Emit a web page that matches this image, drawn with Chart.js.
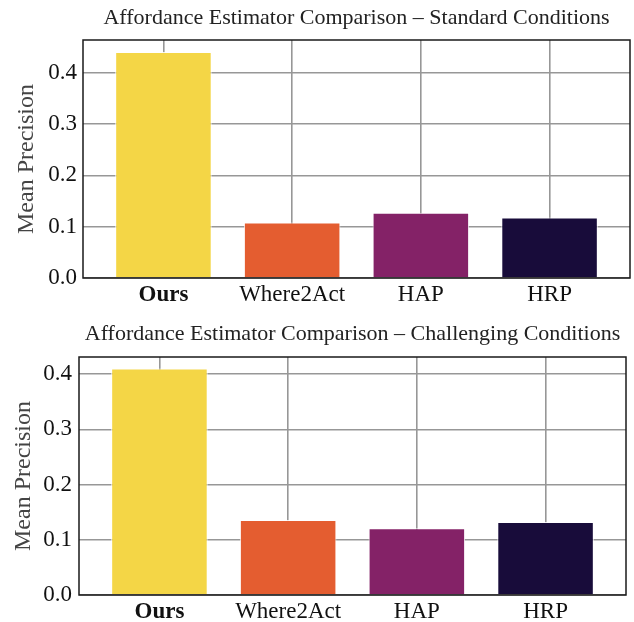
<!DOCTYPE html>
<html>
<head>
<meta charset="utf-8">
<script src="https://cdn.jsdelivr.net/npm/chart.js@4.4.1/dist/chart.umd.min.js"></script>
<style>
  html, body { margin: 0; padding: 0; background: #ffffff; }
  #wrap { width: 634px; height: 622px; position: relative; }
  canvas { display: block; position: absolute; left: 0; }
  #topChart { top: 0; }
  #bottomChart { top: 311px; }
</style>
</head>
<body>
<div id="wrap">
  <canvas id="topChart" width="634" height="311"></canvas>
  <canvas id="bottomChart" width="634" height="311"></canvas>
</div>
<script>
const methods = ["Ours", "Where2Act", "HAP", "HRP"];
const standardPrecision = [0.44, 0.108, 0.127, 0.118];
const challengingPrecision = [0.41, 0.136, 0.121, 0.132];
const yTickValues = [0.0, 0.1, 0.2, 0.3, 0.4];
const standardYMax = 0.4635;
const challengingYMax = 0.431;

const barColors = ["#F4D646", "#E45D30", "#842267", "#180C3A"];

const serif = "'Liberation Serif', 'DejaVu Serif', serif";

// frame around the plot area, like a matplotlib axes box
const frameBox = {
  id: "frameBox",
  afterDatasetsDraw(chart) {
    const { ctx, chartArea } = chart;
    ctx.save();
    ctx.strokeStyle = "#1a1a1a";
    ctx.lineWidth = 1.5;
    ctx.strokeRect(
      chartArea.left,
      chartArea.top,
      chartArea.right - chartArea.left,
      chartArea.bottom - chartArea.top
    );
    ctx.restore();
  },
};

// title centred over the plot area rather than the whole canvas
const axesTitle = {
  id: "axesTitle",
  afterDraw(chart, args, opts) {
    const { ctx, chartArea } = chart;
    ctx.save();
    ctx.font = "normal 22px " + serif;
    ctx.fillStyle = "#222222";
    ctx.textAlign = "center";
    ctx.textBaseline = "middle";
    ctx.fillText(opts.text, (chartArea.left + chartArea.right) / 2, opts.y);
    ctx.restore();
  },
};

function makeChart(canvasId, title, values, yMax, box) {
  return new Chart(canvasId, {
    type: "bar",
    data: {
      datasets: [
        {
          data: values.map((v, i) => ({ x: i, y: v })),
          backgroundColor: barColors,
          borderColor: "rgba(255,255,255,0.85)",
          borderWidth: 1,
          categoryPercentage: 1,
          barPercentage: 0.75,
        },
      ],
    },
    options: {
      responsive: false,
      animation: false,
      layout: {
        padding: { left: 0, right: box.padRight, top: box.padTop, bottom: 0 },
      },
      plugins: {
        legend: { display: false },
        tooltip: { enabled: false },
        title: { display: false },
        axesTitle: { text: title, y: box.titleY },
      },
      scales: {
        x: {
          type: "linear",
          offset: false,
          min: -0.625,
          max: methods.length - 1 + 0.625,
          afterBuildTicks(scale) {
            scale.ticks = methods.map((m, i) => ({ value: i }));
          },
          afterFit(scale) {
            scale.height = box.xHeight;
          },
          ticks: {
            padding: 3,
            color: "#111111",
            autoSkip: false,
            maxRotation: 0,
            callback: (v) => methods[v],
            font: (ctx) => ({
              family: serif,
              size: 23,
              lineHeight: 1.2,
              weight: ctx.tick && ctx.tick.value === 0 ? "bold" : "normal",
            }),
          },
          grid: {
            offset: false,
            color: "#979797",
            lineWidth: 1.6,
            drawTicks: false,
          },
          border: { display: false },
        },
        y: {
          min: 0,
          max: yMax,
          afterBuildTicks(scale) {
            scale.ticks = yTickValues.map((v) => ({ value: v }));
          },
          afterFit(scale) {
            scale.width = box.yWidth;
          },
          ticks: {
            padding: box.yTickPad,
            color: "#111111",
            callback: (v) => v.toFixed(1),
            font: { family: serif, size: 23, lineHeight: 1.2 },
          },
          grid: {
            color: "#979797",
            lineWidth: 1.6,
            drawTicks: false,
          },
          border: { display: false },
          title: {
            display: true,
            text: "Mean Precision",
            color: "#444444",
            font: { family: serif, size: 24, lineHeight: 1.2 },
            padding: { top: box.yTitlePad, bottom: 0 },
          },
        },
      },
    },
    plugins: [frameBox, axesTitle],
  });
}

makeChart(
  "topChart",
  "Affordance Estimator Comparison – Standard Conditions",
  standardPrecision,
  standardYMax,
  { padRight: 4, padTop: 40, titleY: 18, xHeight: 33, yWidth: 83, yTickPad: 6, yTitlePad: 12 }
);

makeChart(
  "bottomChart",
  "Affordance Estimator Comparison – Challenging Conditions",
  challengingPrecision,
  challengingYMax,
  { padRight: 8, padTop: 46, titleY: 23, xHeight: 27, yWidth: 79, yTickPad: 7, yTitlePad: 9 }
);
</script>
</body>
</html>
